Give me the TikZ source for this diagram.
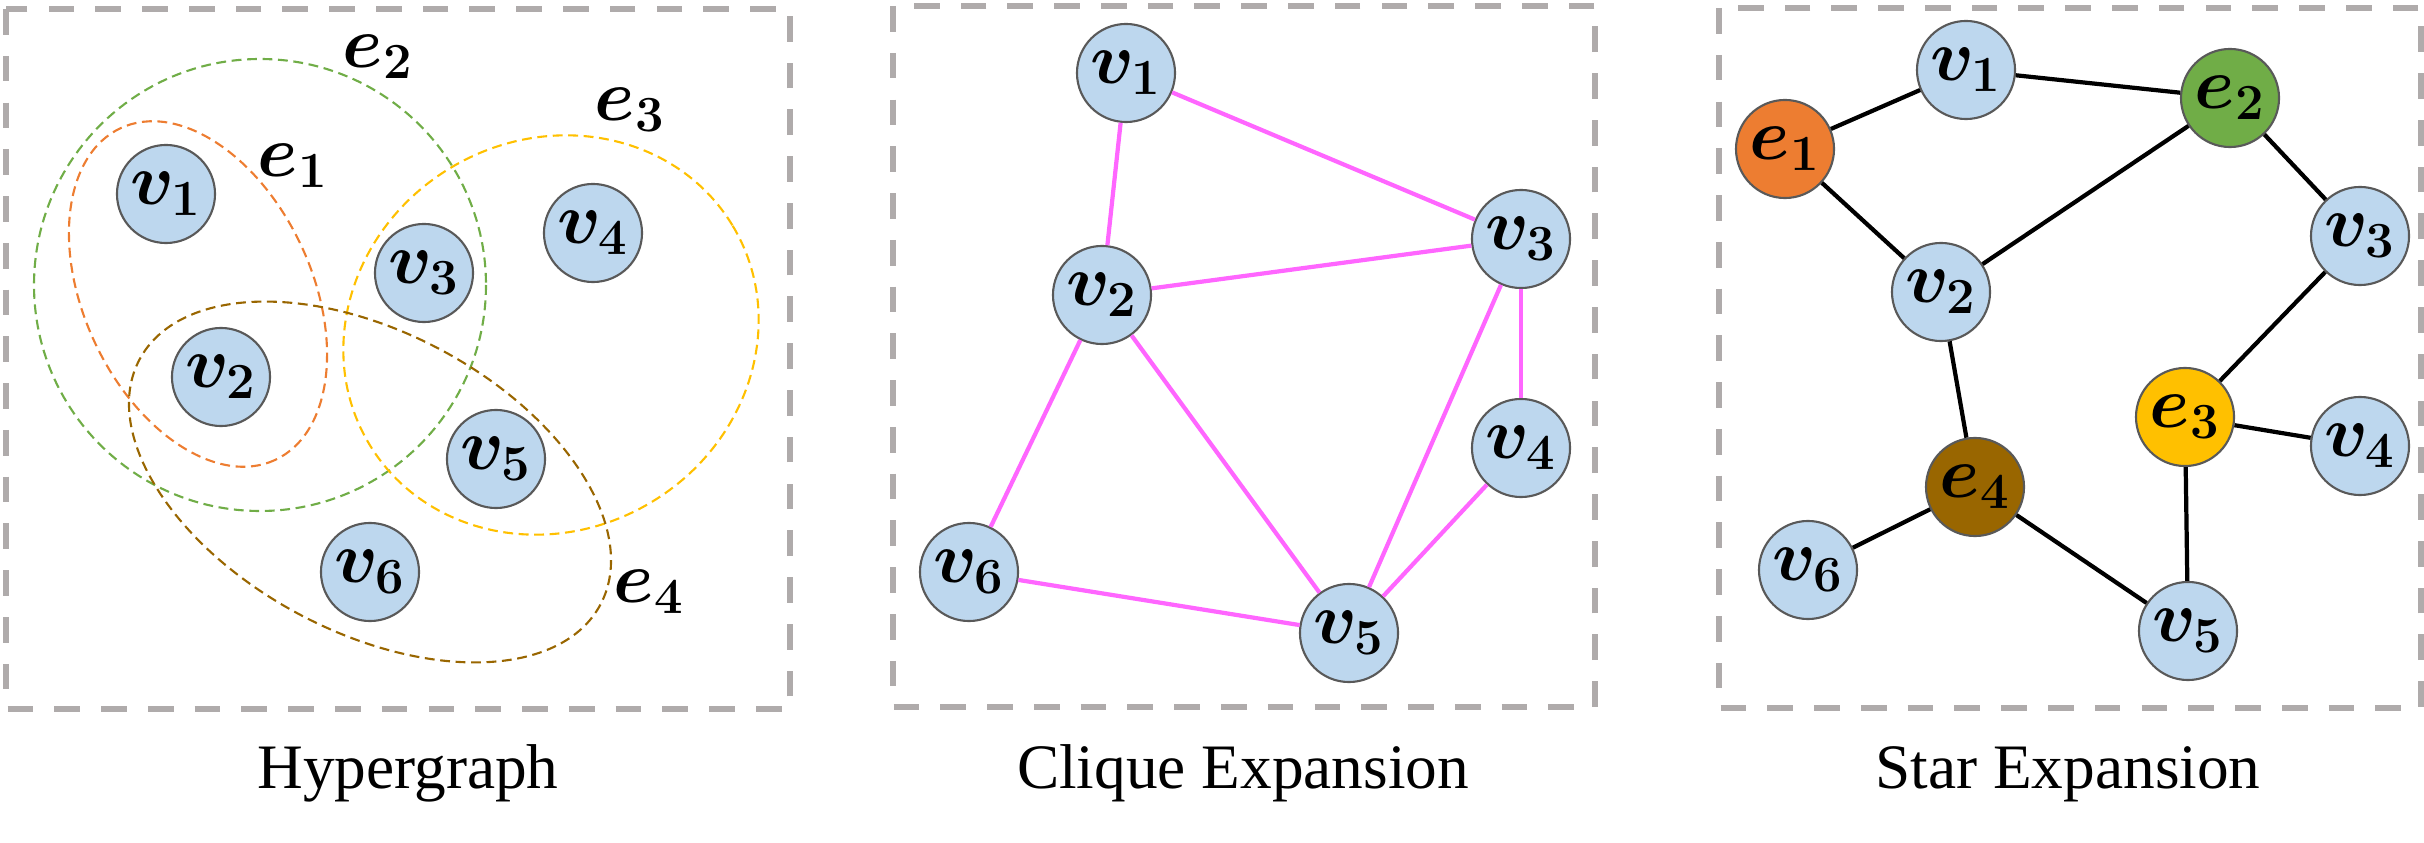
\documentclass[tikz,border=0pt]{standalone}
\usepackage{fontspec}
\setmainfont{Liberation Serif}
\usepackage{amsmath}
\definecolor{vfill}{RGB}{189, 215, 238}
\definecolor{vborder}{RGB}{89, 89, 89}
\definecolor{eonecolor}{RGB}{237, 125, 49}
\definecolor{etwocolor}{RGB}{112, 173, 71}
\definecolor{ethreecolor}{RGB}{255, 192, 0}
\definecolor{efourcolor}{RGB}{153, 102, 0}
\definecolor{cliquecolor}{RGB}{255, 102, 255}
\definecolor{framecolor}{RGB}{175, 171, 171}
\tikzset{
  vnode/.style={circle, minimum size=0.98cm, inner sep=0pt, fill=vfill, draw=vborder, line width=0.6pt, font=\fontsize{21}{24}\selectfont},
  enode/.style={vnode, fill=#1},
  elabel/.style={inner sep=0pt, font=\fontsize{21}{24}\selectfont},
  hedge/.style={draw=#1, line width=0.6pt, dash pattern=on 2.8pt off 1.6pt},
  cedge/.style={draw=cliquecolor, line width=1.2pt},
  sedge/.style={draw=black, line width=1.2pt},
  panel/.style={draw=framecolor, line width=1.7pt, dash pattern=on 7.3pt off 6pt},
  caption/.style={anchor=base, inner sep=0pt, font=\fontsize{18}{22}\selectfont}
}

\begin{document}
\begin{tikzpicture}[x=0.01cm, y=-0.01cm]

  \useasboundingbox (0,0) rectangle (2424,843);

  % Hypergraph
  \draw[panel] (6,9) rectangle (790,709);

  \draw[hedge=etwocolor]   (260,285) circle [radius=226];
  \draw[hedge=eonecolor, rotate around={-65:(198,294)}] (198,294) ellipse [x radius=183, y radius=114];
  \draw[hedge=ethreecolor, rotate around={31:(551,335)}] (551,335) ellipse [x radius=212, y radius=195];
  \draw[hedge=efourcolor, rotate around={-28:(370,482)}] (370,482) ellipse [x radius=261, y radius=150];

  \node[vnode] (hv1) at (166,194) {$\boldsymbol{v_1}$};
  \node[vnode] (hv2) at (221,377) {$\boldsymbol{v_2}$};
  \node[vnode] (hv3) at (424,273) {$\boldsymbol{v_3}$};
  \node[vnode] (hv4) at (593,233) {$\boldsymbol{v_4}$};
  \node[vnode] (hv5) at (496,459) {$\boldsymbol{v_5}$};
  \node[vnode] (hv6) at (370,572) {$\boldsymbol{v_6}$};

  \node[elabel] (he1) at (293,166) {$\boldsymbol{e_1}$};
  \node[elabel] (he2) at (378,57)  {$\boldsymbol{e_2}$};
  \node[elabel] (he3) at (630,110) {$\boldsymbol{e_3}$};
  \node[elabel] (he4) at (649,592) {$\boldsymbol{e_4}$};

  \node[caption] (hcap) at (408,788) {Hypergraph};

  % Clique Expansion
  \draw[panel] (893,6) rectangle (1595,707);

  \node[vnode] (cv1) at (1126,73)  {$\boldsymbol{v_1}$};
  \node[vnode] (cv2) at (1102,295) {$\boldsymbol{v_2}$};
  \node[vnode] (cv3) at (1521,239) {$\boldsymbol{v_3}$};
  \node[vnode] (cv4) at (1521,448) {$\boldsymbol{v_4}$};
  \node[vnode] (cv5) at (1349,633) {$\boldsymbol{v_5}$};
  \node[vnode] (cv6) at (969,572)  {$\boldsymbol{v_6}$};

  \draw[cedge] (cv1) -- (cv2);
  \draw[cedge] (cv1) -- (cv3);
  \draw[cedge] (cv2) -- (cv3);
  \draw[cedge] (cv2) -- (cv6);
  \draw[cedge] (cv2) -- (cv5);
  \draw[cedge] (cv3) -- (cv5);
  \draw[cedge] (cv3) -- (cv4);
  \draw[cedge] (cv4) -- (cv5);
  \draw[cedge] (cv6) -- (cv5);

  \node[caption] (ccap) at (1243,788) {Clique Expansion};

  % Star Expansion
  \draw[panel] (1719,8) rectangle (2421,708);

  \node[enode=eonecolor]   (se1) at (1785,149) {$\boldsymbol{e_1}$};
  \node[enode=etwocolor]   (se2) at (2230,98)  {$\boldsymbol{e_2}$};
  \node[enode=ethreecolor] (se3) at (2185,417) {$\boldsymbol{e_3}$};
  \node[enode=efourcolor]  (se4) at (1975,487) {$\boldsymbol{e_4}$};

  \node[vnode] (sv1) at (1966,70)  {$\boldsymbol{v_1}$};
  \node[vnode] (sv2) at (1941,292) {$\boldsymbol{v_2}$};
  \node[vnode] (sv3) at (2360,236) {$\boldsymbol{v_3}$};
  \node[vnode] (sv4) at (2360,446) {$\boldsymbol{v_4}$};
  \node[vnode] (sv5) at (2188,631) {$\boldsymbol{v_5}$};
  \node[vnode] (sv6) at (1808,570) {$\boldsymbol{v_6}$};

  \draw[sedge] (se1) -- (sv1);
  \draw[sedge] (se1) -- (sv2);
  \draw[sedge] (sv1) -- (se2);
  \draw[sedge] (se2) -- (sv2);
  \draw[sedge] (se2) -- (sv3);
  \draw[sedge] (sv3) -- (se3);
  \draw[sedge] (se3) -- (sv4);
  \draw[sedge] (se3) -- (sv5);
  \draw[sedge] (sv2) -- (se4);
  \draw[sedge] (se4) -- (sv6);
  \draw[sedge] (se4) -- (sv5);

  \node[caption] (scap) at (2068,788) {Star Expansion};

\end{tikzpicture}
\end{document}
